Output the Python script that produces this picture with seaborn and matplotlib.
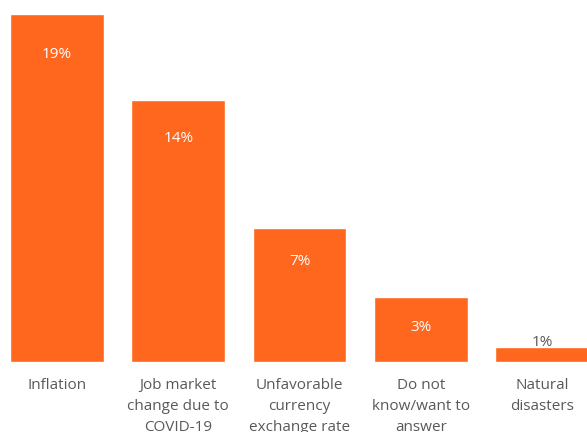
import matplotlib
matplotlib.use("Agg")
import matplotlib.pyplot as plt
import seaborn as sns
import pandas as pd

categories = ["Inflation", "Job market\nchange due to\nCOVID-19", "Unfavorable\ncurrency\nexchange rate",
              "Do not\nknow/want to\nanswer", "Natural\ndisasters"]
values = [19.0, 14.3, 7.3, 3.55, 0.82]
labels = ["19%", "14%", "7%", "3%", "1%"]

sns.set_theme(style="white")
plt.rcParams['font.family'] = ['Open Sans', 'DejaVu Sans']

df = pd.DataFrame({"cat": categories, "val": values})
fig = plt.figure(figsize=(5.87, 4.32), dpi=100)
ax = fig.add_axes([0, 70 / 432, 1, 362 / 432])
sns.barplot(data=df, x="cat", y="val", color="#FF671F", saturation=1, width=0.775, ax=ax)
ax.set_xlim(-0.470, 4.371)
ax.set_ylim(0, 362 / 18.316)
for s in ax.spines.values():
    s.set_visible(False)
ax.set_yticks([])
ax.set_xlabel("")
ax.set_ylabel("")
ax.set_xticks(range(len(categories)), categories, linespacing=1.55)
ax.tick_params(axis="x", length=0, pad=11.5, labelsize=11, labelcolor="#595959")

px_per_unit = 18.316
for i, (v, t) in enumerate(zip(values, labels)):
    h = v * px_per_unit
    if h > 40:
        off = min(39, 26 + h * 0.04) + 1.5
        ax.annotate(t, (i, v), xytext=(0, -off * 72 / 100), textcoords="offset points",
                    ha="center", va="center", color="white", fontsize=11)
    else:
        ax.annotate(t, (i, v), xytext=(0, 3), textcoords="offset points",
                    ha="center", va="center", color="#595959", fontsize=11)

fig.savefig("out.png", dpi=100)
